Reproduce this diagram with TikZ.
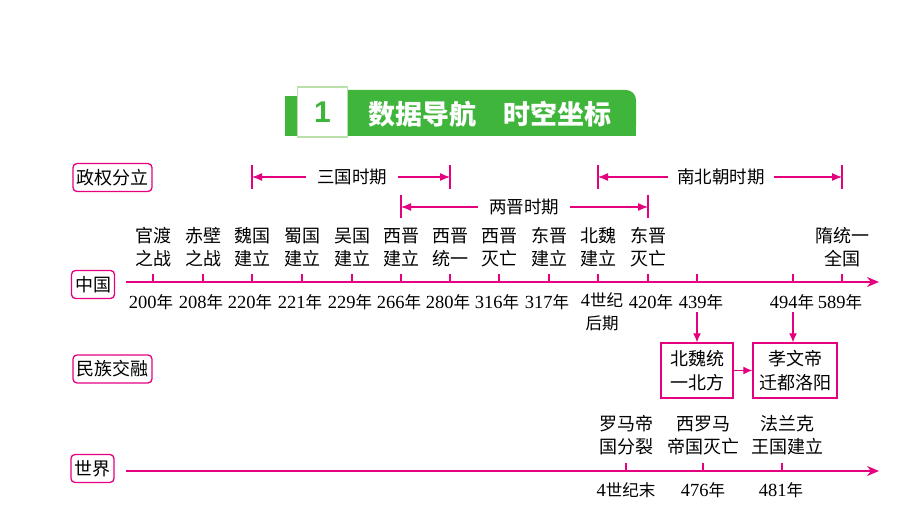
\documentclass[tikz,border=0pt]{standalone}
\usepackage{fontspec}
\setmainfont{Liberation Serif}
\newfontfamily\cjk{Noto Sans CJK SC}
\newfontfamily\lsans{Liberation Sans}
\usetikzlibrary{arrows.meta}
\definecolor{mag}{HTML}{E4007F}
\definecolor{grn}{HTML}{3FB63B}
\definecolor{lgrn}{HTML}{B8E0A8}
\newcommand\nian{{\cjk\fontsize{16.5}{16.5}\selectfont 年}}
\begin{document}
\begin{tikzpicture}[x=1pt,y=-1pt,
  lbl/.style={draw=mag,line width=1.3pt,rounded corners=4pt,inner xsep=3.5pt,inner ysep=2pt,minimum height=28pt,font=\cjk\fontsize{18}{18}\selectfont,text=black},
  evt/.style={font=\cjk\fontsize{18}{23}\selectfont,align=center,inner sep=0pt},
  yrs/.style={font=\fontsize{18.5}{23}\selectfont,align=center,inner sep=0pt},
  axis/.style={draw=mag,line width=1.3pt,-{Stealth[length=12pt,width=10pt]}},
  tickm/.style={draw=mag,line width=1.2pt},
  per/.style={font=\cjk\fontsize{17.5}{17.5}\selectfont,inner xsep=11pt,inner ysep=0pt},
  parr/.style={draw=mag,line width=1.2pt,-{Latex[length=10pt,width=8pt]}},
  bar/.style={draw=mag,line width=1.2pt},
  ebox/.style={draw=mag,line width=1.4pt,minimum height=55pt,align=center,font=\cjk\fontsize{18}{24}\selectfont,inner sep=2pt},
  earr/.style={draw=mag,line width=1.2pt,-{Latex[length=9pt,width=8pt]}}
]
\useasboundingbox (0,0) rectangle (920,518);
% banner
\fill[grn,rounded corners=10pt] (297,90) rectangle (636,136);
\fill[grn] (285,96) rectangle (330,136);
\fill[grn] (400,115) rectangle (636,136);
\node[draw=lgrn,fill=white,line width=1.5pt,minimum width=50pt,minimum height=50pt,inner sep=0pt,text=grn,font=\lsans\bfseries\fontsize{30}{30}\selectfont] (num) at (322.5,112) {1};
\node[text=white,font=\cjk\bfseries\fontsize{27}{27}\selectfont,inner sep=0pt] (ttl) at (490,114) {数据导航　时空坐标};
% row labels
\node[lbl] (zq) at (112.5,177.5) {政权分立};
\node[lbl] (zg) at (93,284.5) {中国};
\node[lbl] (mz) at (112.5,369) {民族交融};
\node[lbl] (sj) at (92.5,468.5) {世界};
% China axis
\coordinate (cs) at (126,282);
\coordinate (ce) at (879,282);
\draw[axis] (cs) -- (ce);
\foreach \n/\x in {a/153,b/203,c/252,d/302,e/352,f/401,g/450,h/499,i/549,j/598,k/648,l/697,m/793,n/842}{
  \coordinate (t\n) at (\x,282);
  \draw[tickm] (t\n) -- ++(0,-8);
}
% events
\node[evt] (ea) at (153,247.5) {官渡\\之战};
\node[evt] (eb) at (203,247.5) {赤壁\\之战};
\node[evt] (ec) at (252,247.5) {魏国\\建立};
\node[evt] (ed) at (302,247.5) {蜀国\\建立};
\node[evt] (ee) at (352,247.5) {吴国\\建立};
\node[evt] (ef) at (401,247.5) {西晋\\建立};
\node[evt] (eg) at (450,247.5) {西晋\\统一};
\node[evt] (eh) at (499,247.5) {西晋\\灭亡};
\node[evt] (ei) at (549,247.5) {东晋\\建立};
\node[evt] (ej) at (598,247.5) {北魏\\建立};
\node[evt] (ek) at (648,247.5) {东晋\\灭亡};
\node[evt] (en) at (842,247.5) {隋统一\\全国};
% years
\node[yrs] (ya) at (151,302) {200\nian};
\node[yrs] (yb) at (201,302) {208\nian};
\node[yrs] (yc) at (250,302) {220\nian};
\node[yrs] (yd) at (300,302) {221\nian};
\node[yrs] (ye) at (350,302) {229\nian};
\node[yrs] (yf) at (399,302) {266\nian};
\node[yrs] (yg) at (448,302) {280\nian};
\node[yrs] (yh) at (497,302) {316\nian};
\node[yrs] (yi) at (547,302) {317\nian};
\node[yrs,anchor=north] (yj) at (602,292) {4{\cjk\fontsize{16.5}{16.5}\selectfont 世纪}\\{\cjk\fontsize{16.5}{16.5}\selectfont 后期}};
\node[yrs] (yk) at (651,302) {420\nian};
\node[yrs] (yl) at (701,302) {439\nian};
\node[yrs] (ym) at (792,302) {494\nian};
\node[yrs] (yn) at (840,302) {589\nian};
% periods
\node[per] (sg) at (352,177) {三国时期};
\coordinate (sgl) at (252,177); \coordinate (sgr) at (450,177);
\draw[parr] (sg.west) -- (sgl);
\draw[parr] (sg.east) -- (sgr);
\draw[bar] (252,165) -- (252,189);
\draw[bar] (450,165) -- (450,189);
\node[per] (lj) at (524,207) {两晋时期};
\coordinate (ljl) at (401,207); \coordinate (ljr) at (648,207);
\draw[parr] (lj.west) -- (ljl);
\draw[parr] (lj.east) -- (ljr);
\draw[bar] (401,195) -- (401,218);
\draw[bar] (648,195) -- (648,218);
\node[per,inner xsep=9pt] (nb) at (721,177) {南北朝时期};
\coordinate (nbl) at (598,177); \coordinate (nbr) at (842,177);
\draw[parr] (nb.west) -- (nbl);
\draw[parr] (nb.east) -- (nbr);
\draw[bar] (598,165) -- (598,189);
\draw[bar] (842,165) -- (842,189);
% ethnic boxes
\node[ebox,minimum width=72pt] (bw) at (697,370.5) {北魏统\\一北方};
\node[ebox,minimum width=84pt] (xw) at (795,370.5) {孝文帝\\迁都洛阳};
\coordinate (a1) at (697,312);
\coordinate (a2) at (793,312);
\draw[earr] (a1) -- (bw.north);
\draw[earr] (a2) -- (a2 |- xw.north);
\draw[earr] (bw.east) -- (xw.west);
% world axis
\coordinate (ws) at (126,471);
\coordinate (we) at (879,471);
\draw[axis] (ws) -- (we);
\foreach \n/\x in {a/626,b/703,c/782}{
  \coordinate (w\n) at (\x,471);
  \draw[tickm] (w\n) -- ++(0,-8);
}
\node[evt] (wea) at (626,435.5) {罗马帝\\国分裂};
\node[evt] (web) at (703,435.5) {西罗马\\帝国灭亡};
\node[evt] (wec) at (787,435.5) {法兰克\\王国建立};
\node[yrs] (wya) at (626,490) {4{\cjk\fontsize{16.5}{16.5}\selectfont 世纪末}};
\node[yrs] (wyb) at (703,490) {476\nian};
\node[yrs] (wyc) at (781,490) {481\nian};
\end{tikzpicture}
\end{document}
